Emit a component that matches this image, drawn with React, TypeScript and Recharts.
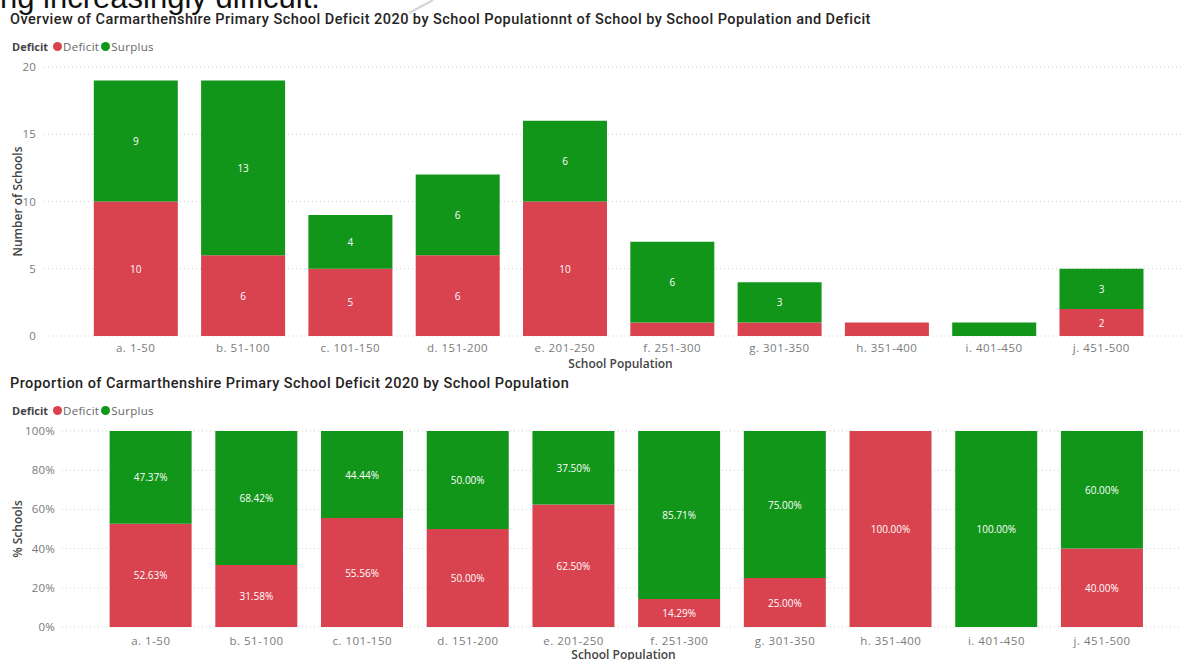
import { BarChart, Bar, XAxis, YAxis, CartesianGrid, LabelList, Label } from 'recharts';

const populationBands = [
  'a. 1-50',
  'b. 51-100',
  'c. 101-150',
  'd. 151-200',
  'e. 201-250',
  'f. 251-300',
  'g. 301-350',
  'h. 351-400',
  'i. 401-450',
  'j. 451-500',
];
const deficitCounts = [10, 6, 5, 6, 10, 1, 1, 1, 0, 2];
const surplusCounts = [9, 13, 4, 6, 6, 6, 3, 0, 1, 3];
const deficitShares = [52.63, 31.58, 55.56, 50.0, 62.5, 14.29, 25.0, 100.0, 0, 40.0];
const surplusShares = [47.37, 68.42, 44.44, 50.0, 37.5, 85.71, 75.0, 0, 100.0, 60.0];
const countTicks = [0, 5, 10, 15, 20];
const shareTicks = [0, 20, 40, 60, 80, 100];

const RED = '#D9434F';
const GREEN = '#12961A';
const FONT = '"Open Sans", "Noto Sans", sans-serif';
const TITLE_FONT = 'Roboto, "Noto Sans", sans-serif';

const countRows = populationBands.map((band, i) => ({
  band,
  deficit: deficitCounts[i],
  surplus: surplusCounts[i],
}));

const shareRows = populationBands.map((band, i) => ({
  band,
  deficit: deficitShares[i],
  surplus: surplusShares[i],
}));

// power bi drops labels that don't fit in the segment
function segmentLabel(props: any, minHeight: number, fmt: (v: number) => string) {
  const { x, y, width, height, value } = props;
  if (!value || Math.abs(height) < minHeight) return null;
  return (
    <text
      x={x + width / 2}
      y={y + height / 2}
      fill="#ffffff"
      fontSize={10}
      fontFamily={FONT}
      textAnchor="middle"
      dominantBaseline="central"
    >
      {fmt(value)}
    </text>
  );
}

function LegendRow({ top }: { top: number }) {
  const dot = (color: string) => (
    <span
      style={{
        display: 'inline-block',
        width: 9,
        height: 9,
        borderRadius: '50%',
        background: color,
        marginRight: 1,
      }}
    />
  );
  return (
    <div
      style={{
        position: 'absolute',
        left: 12,
        top,
        height: 12,
        display: 'flex',
        alignItems: 'center',
        fontFamily: FONT,
        fontSize: 11.5,
        color: '#666',
        whiteSpace: 'nowrap',
      }}
    >
      <span style={{ fontWeight: 700, fontSize: 11, color: '#444', marginRight: 5 }}>Deficit</span>
      {dot(RED)}
      <span style={{ marginRight: 2, letterSpacing: 0.3 }}>Deficit</span>
      {dot(GREEN)}
      <span style={{ letterSpacing: 0.3 }}>Surplus</span>
    </div>
  );
}

const tickStyle = { fontSize: 11.5, fill: '#7a7a7a', fontFamily: FONT, letterSpacing: 0.5 };
const axisTitleStyle = { fontSize: 12, fill: '#444', fontFamily: FONT, fontWeight: 600 };
const titleStyle = {
  position: 'absolute' as const,
  left: 10,
  fontFamily: TITLE_FONT,
  fontSize: 14.5,
  fontWeight: 500,
  letterSpacing: 0.45,
  lineHeight: '16px',
  color: '#252423',
  whiteSpace: 'nowrap' as const,
};

export default function App() {
  return (
    <div
      style={{
        position: 'absolute',
        left: 0,
        top: 0,
        width: 1181,
        height: 660,
        overflow: 'hidden',
        background: '#fff',
      }}
    >
      <div
        style={{
          position: 'absolute',
          left: 0,
          top: -18,
          fontFamily: '"Liberation Sans", Arial, sans-serif',
          fontSize: 31,
          lineHeight: '31px',
          color: '#111',
          whiteSpace: 'nowrap',
        }}
      >
        ng increasingly difficult.
      </div>
      <svg style={{ position: 'absolute', left: 0, top: 0 }} width={1181} height={20}>
        <line x1={433} y1={0} x2={409} y2={13} stroke="#d4d4d4" strokeWidth={2} />
      </svg>

      <div style={{ ...titleStyle, top: 12 }}>
        Overview of Carmarthenshire Primary School Deficit 2020 by School Populationnt of School by School Population and Deficit
      </div>
      <LegendRow top={40} />

      <div style={{ position: 'absolute', left: 0, top: 55 }}>
        <BarChart
          width={1181}
          height={319}
          data={countRows}
          margin={{ top: 12, right: 0, bottom: 6, left: 0 }}
          barCategoryGap="11%"
        >
          <CartesianGrid vertical={false} stroke="#cfcfcf" strokeDasharray="1 3" />
          <XAxis
            dataKey="band"
            tick={tickStyle}
            tickLine={false}
            axisLine={false}
            tickMargin={2}
            height={32}
            padding={{ left: 38, right: 26 }}
            interval={0}
          >
            <Label value="School Population" position="insideBottom" offset={0} dx={8} style={axisTitleStyle} />
          </XAxis>
          <YAxis
            width={44}
            domain={[0, 20]}
            ticks={countTicks}
            tick={{ ...tickStyle, letterSpacing: 0.2 }}
            tickLine={false}
            axisLine={false}
            tickMargin={2}
          >
            <Label
              value="Number of Schools"
              angle={-90}
              position="insideLeft"
              offset={18}
              style={{ ...axisTitleStyle, textAnchor: 'middle' }}
            />
          </YAxis>
          <Bar dataKey="deficit" stackId="n" fill={RED} isAnimationActive={false}>
            <LabelList dataKey="deficit" content={(p: any) => segmentLabel(p, 20, (v) => `${v}`)} />
          </Bar>
          <Bar dataKey="surplus" stackId="n" fill={GREEN} isAnimationActive={false}>
            <LabelList dataKey="surplus" content={(p: any) => segmentLabel(p, 20, (v) => `${v}`)} />
          </Bar>
        </BarChart>
      </div>

      <div style={{ ...titleStyle, top: 376 }}>
        Proportion of Carmarthenshire Primary School Deficit 2020 by School Population
      </div>
      <LegendRow top={404} />

      <div style={{ position: 'absolute', left: 0, top: 420 }}>
        <BarChart
          width={1181}
          height={243}
          data={shareRows}
          margin={{ top: 11, right: 0, bottom: 4, left: 0 }}
          barCategoryGap="11%"
        >
          <CartesianGrid vertical={false} stroke="#cfcfcf" strokeDasharray="1 3" />
          <XAxis
            dataKey="band"
            tick={tickStyle}
            tickLine={false}
            axisLine={false}
            tickMargin={4}
            height={32}
            padding={{ left: 36, right: 26 }}
            interval={0}
          >
            <Label value="School Population" position="insideBottom" offset={0} dx={2} style={axisTitleStyle} />
          </XAxis>
          <YAxis
            width={62}
            domain={[0, 100]}
            ticks={shareTicks}
            tick={{ ...tickStyle, letterSpacing: 0.2 }}
            tickLine={false}
            axisLine={false}
            tickMargin={1}
            tickFormatter={(v) => `${v}%`}
          >
            <Label
              value="% Schools"
              angle={-90}
              position="insideLeft"
              offset={18}
              style={{ ...axisTitleStyle, textAnchor: 'middle' }}
            />
          </YAxis>
          <Bar dataKey="deficit" stackId="p" fill={RED} isAnimationActive={false}>
            <LabelList dataKey="deficit" content={(p: any) => segmentLabel(p, 10, (v) => `${v.toFixed(2)}%`)} />
          </Bar>
          <Bar dataKey="surplus" stackId="p" fill={GREEN} isAnimationActive={false}>
            <LabelList dataKey="surplus" content={(p: any) => segmentLabel(p, 10, (v) => `${v.toFixed(2)}%`)} />
          </Bar>
        </BarChart>
      </div>
    </div>
  );
}
